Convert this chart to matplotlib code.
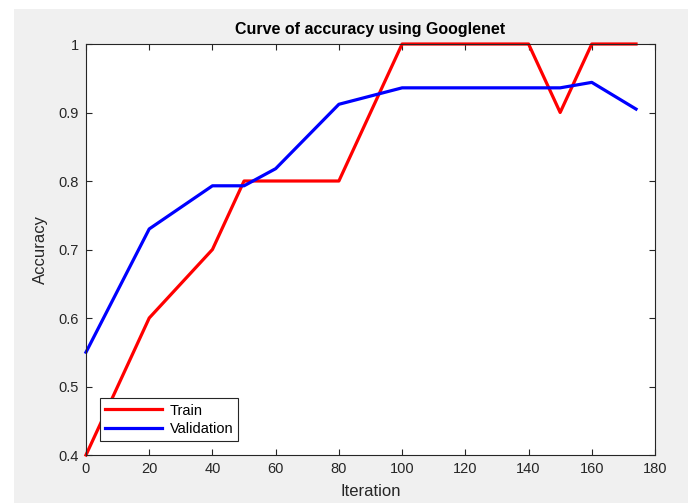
import matplotlib
matplotlib.use('Agg')
import matplotlib.pyplot as plt
from matplotlib.patches import Rectangle
from matplotlib.ticker import FuncFormatter

# === 数据 ===
train_x = [0, 20, 40, 50, 80, 100, 140, 150, 160, 174]
train_acc = [0.4, 0.6, 0.7, 0.8, 0.8, 1.0, 1.0, 0.9, 1.0, 1.0]
val_x = [0, 20, 40, 50, 60, 80, 100, 150, 160, 174]
val_acc = [0.55, 0.73, 0.793, 0.793, 0.818, 0.912, 0.936, 0.936, 0.944, 0.905]
x_ticks = list(range(0, 181, 20))
y_ticks = [0.4, 0.5, 0.6, 0.7, 0.8, 0.9, 1.0]

plt.rcParams['font.family'] = ['Liberation Sans', 'DejaVu Sans']
axis_color = '#262626'

fig = plt.figure(figsize=(6.88, 5.03), dpi=100, facecolor='white')
# MATLAB 风格灰色背景（左侧和顶部留白条）
fig.patches.append(Rectangle((14 / 688, 0), 1, 1 - 9 / 503, transform=fig.transFigure,
                             facecolor='#f0f0f0', edgecolor='none', zorder=-10))

ax = fig.add_axes([86 / 688, 1 - 455 / 503, (655 - 86) / 688, (455 - 44) / 503])
ax.plot(train_x, train_acc, color='#ff0000', linewidth=2.3, label='Train', clip_on=False)
ax.plot(val_x, val_acc, color='#0000ff', linewidth=2.3, label='Validation', clip_on=False)

ax.set_xlim(0, 180)
ax.set_ylim(0.4, 1.0)
ax.set_xticks(x_ticks)
ax.set_yticks(y_ticks)
ax.yaxis.set_major_formatter(FuncFormatter(lambda v, p: f'{v:g}'))
ax.tick_params(direction='in', top=True, right=True, length=4, width=0.8,
               colors=axis_color, labelsize=10.5, pad=5)
for s in ax.spines.values():
    s.set_color(axis_color)
    s.set_linewidth(0.8)

ax.set_title('Curve of accuracy using Googlenet', fontsize=11.5, fontweight='bold',
             color='black', pad=7)
ax.set_xlabel('Iteration', fontsize=12, color=axis_color, labelpad=6)
ax.set_ylabel('Accuracy', fontsize=12, color=axis_color, labelpad=8)

leg = ax.legend(loc='lower left', bbox_to_anchor=(0.025, 0.034), borderaxespad=0,
                fancybox=False, edgecolor=axis_color, framealpha=1, fontsize=10.5,
                handlelength=3.9, handletextpad=0.5, borderpad=0.35, labelspacing=0.3)
leg.get_frame().set_linewidth(0.8)

fig.savefig('out.png', dpi=100, facecolor=fig.get_facecolor())
